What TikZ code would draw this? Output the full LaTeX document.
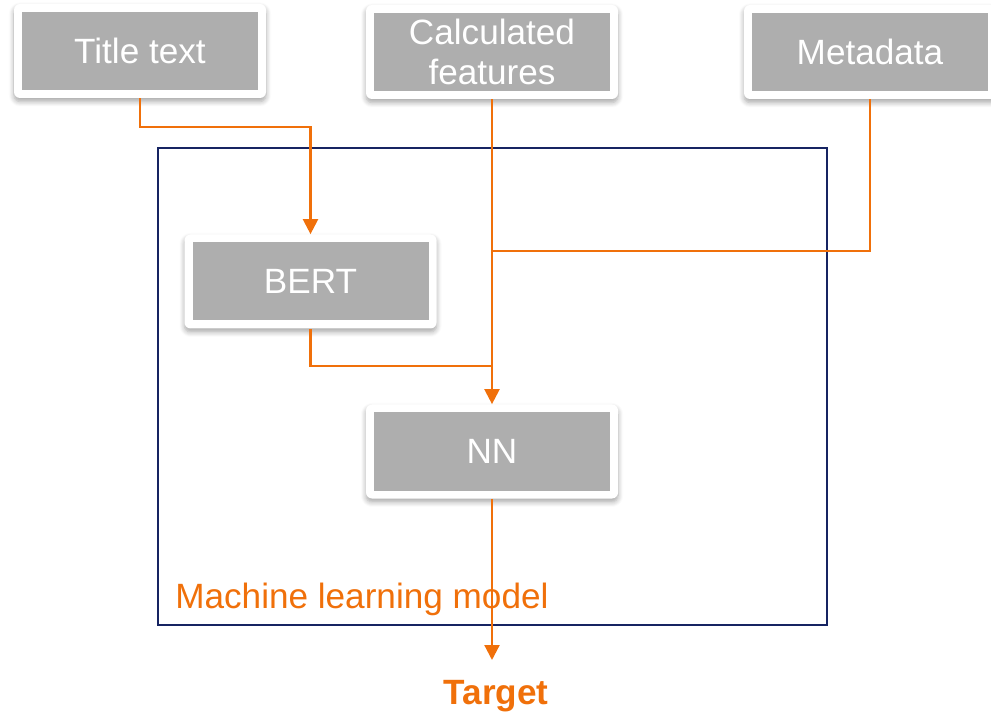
\documentclass[tikz,border=0pt]{standalone}
\usepackage{fontspec}
\setmainfont{Liberation Sans}
\usepackage{tikz}
\usetikzlibrary{arrows.meta,positioning,shadows.blur,calc}

\definecolor{boxgray}{RGB}{174,174,174}
\definecolor{flowor}{RGB}{240,112,10}
\definecolor{framenavy}{RGB}{22,36,98}

\begin{document}
\begin{tikzpicture}[
                    box/.style={rectangle, fill=white, rounded corners=0.12cm,
                                minimum width=5.04cm, minimum height=1.88cm, inner sep=0pt, align=center,
                                text=white, font=\fontsize{20}{23}\selectfont,
                                blur shadow={shadow xshift=0cm, shadow yshift=-0.07cm, shadow blur radius=0.1cm,
                                             shadow blur steps=6, shadow opacity=35},
                                path picture={\fill[boxgray, sharp corners] ($(path picture bounding box.south west)+(0.16,0.16)$)
                                              rectangle ($(path picture bounding box.north east)-(0.16,0.16)$);}},
                    flow/.style={draw=flowor, line width=0.045cm},
                    arr/.style={flow, -{Triangle[width=0.3cm, length=0.3cm]}}
                ]
                    \useasboundingbox (0,0) rectangle (19.82,14.22);
                    % outer frame of the model
                    \draw[framenavy, line width=0.03cm] (3.16,1.72) rectangle (16.54,11.26);
                    \node[anchor=west, text=flowor, font=\fontsize{20}{23}\selectfont, inner sep=0pt] (mlm) at (3.50,2.24) {Machine learning model};

                    \node[box] (tt) at (2.80,13.20) {Title text};
                    \node[box] (cf) at (9.84,13.18) {Calculated\\features};
                    \node[box] (md) at (17.40,13.18) {Metadata};
                    \node[box] (bert) at (6.21,8.59) {BERT};
                    \node[box] (nn) at (9.84,5.19) {NN};

                    \coordinate (jm) at (9.84,9.20);
                    \coordinate (jb) at (9.84,6.90);
                    \coordinate (out) at (9.84,1.02);
                    \node[text=flowor, font=\fontsize{20}{23}\selectfont\bfseries, inner sep=0pt] (tgt) at (9.92,0.29) {Target};

                    \draw[arr] (tt.south) -- ++(0,-0.58) -| (bert.north);
                    \draw[flow] (md.south) |- (jm);
                    \draw[flow] (bert.south) |- (jb);
                    \draw[arr] (cf.south) -- (nn.north);
                    \draw[arr] (nn.south) -- (out);
                \end{tikzpicture}
\end{document}
